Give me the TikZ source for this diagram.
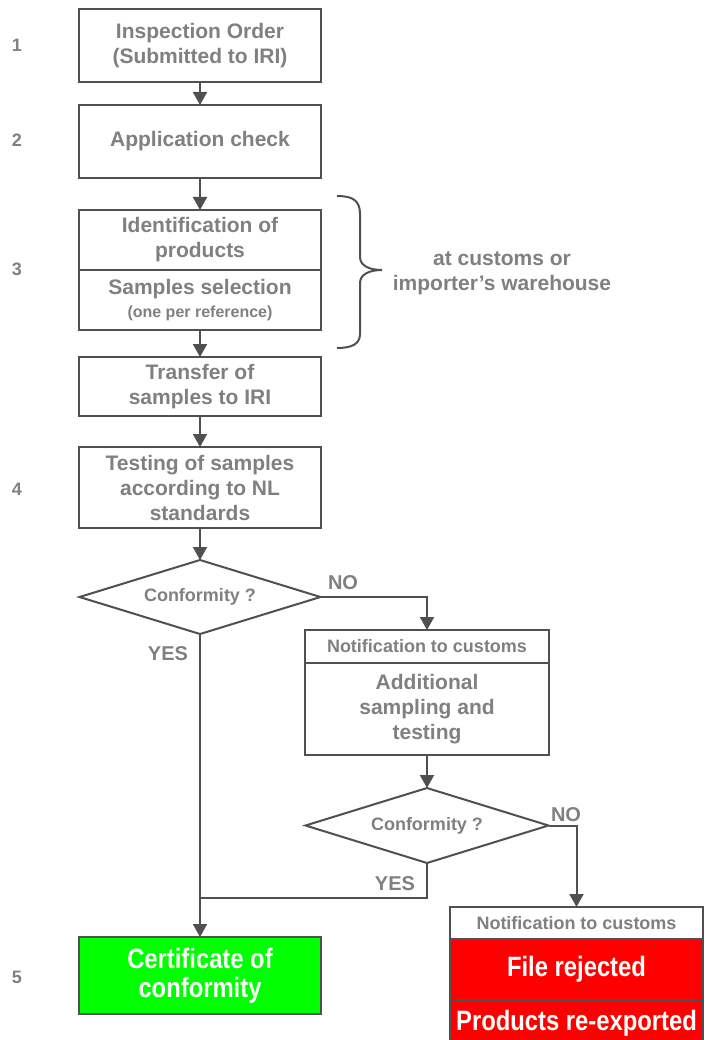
\documentclass[tikz,border=0pt]{standalone}
\usepackage{fontspec}
\setmainfont{Liberation Sans}
\newfontfamily\narrowfont{Liberation Sans}[FakeStretch=0.85]
\usetikzlibrary{arrows.meta}
\definecolor{txtgray}{HTML}{808080}
\definecolor{linegray}{HTML}{505050}
\definecolor{okgreen}{HTML}{00FF00}
\definecolor{badred}{HTML}{FF0000}
\begin{document}
\begin{tikzpicture}[x=1pt,y=-1pt,
  every node/.style={inner sep=0pt, outer sep=0pt},
  stepbox/.style={draw=linegray, line width=2pt, rectangle, minimum width=242pt, align=center,
     text=txtgray, font=\fontsize{21}{25}\selectfont\bfseries},
  smallbox/.style={draw=linegray, line width=2pt, rectangle, align=center,
     text=txtgray, font=\fontsize{18}{21}\selectfont\bfseries},
  redbox/.style={draw=linegray, line width=2pt, fill=badred, rectangle, align=center,
     text=white, font=\fontsize{28}{31}\selectfont\narrowfont\bfseries},
  decision/.style={rectangle, minimum width=241pt, minimum height=74pt,
     text=txtgray, font=\fontsize{18}{21}\selectfont\bfseries},
  lbl/.style={text=txtgray, font=\fontsize{20}{24}\selectfont\bfseries},
  num/.style={text=txtgray, font=\fontsize{18}{21}\selectfont\bfseries},
  conn/.style={draw=linegray, line width=2pt},
  arr/.style={conn, -{Triangle[width=14pt,length=13pt]}}
]
\clip (0,0) rectangle (704,1040);
\fill[white] (0,0) rectangle (704,1040);

% step numbers
\node[num] (n1) at (17,45) {1};
\node[num] (n2) at (17,140) {2};
\node[num] (n3) at (17,269) {3};
\node[num] (n4) at (17,489) {4};
\node[num] (n5) at (17,977) {5};

% main boxes
\node[stepbox, minimum height=73pt] (b1) at (200,45.5) {Inspection Order\\(Submitted to IRI)};
\node[stepbox, minimum height=73pt] (b2) at (200,141.5) {Application check};
\node[stepbox, minimum height=60pt] (b3a) at (200,240) {Identification of\\products};
\node[stepbox, minimum height=60pt] (b3b) at (200,300) {Samples selection\\[-2pt]{\fontsize{16}{19}\selectfont (one per reference)}};
\node[stepbox, minimum height=59pt] (b4) at (200,386.5) {Transfer of\\samples to IRI};
\node[stepbox, minimum height=81pt] (b5) at (200,487.5) {Testing of samples\\according to NL\\standards};

% first decision
\node[decision] (d1) at (200,597) {Conformity ?};
\draw[conn, line join=miter] (d1.north) -- (d1.east) -- (d1.south) -- (d1.west) -- cycle;
\node[lbl] (no1) at (343,583) {NO};
\node[lbl] (yes1) at (168,654) {YES};

% notification + additional
\node[smallbox, minimum width=244pt, minimum height=33pt] (na) at (427,646.5) {Notification to customs};
\node[stepbox, minimum width=244pt, minimum height=92pt] (ad) at (427,709) {Additional\\sampling and\\testing};

% second decision
\node[decision, minimum width=243pt, minimum height=75pt] (d2) at (427,825.5) {Conformity ?};
\draw[conn, line join=miter] (d2.north) -- (d2.east) -- (d2.south) -- (d2.west) -- cycle;
\node[lbl] (no2) at (566,815) {NO};
\node[lbl] (yes2) at (395,884) {YES};

% certificate
\node[draw=linegray, line width=2pt, fill=okgreen, minimum width=242pt, minimum height=77pt, align=center,
  text=white, font=\fontsize{28}{29}\selectfont\narrowfont\bfseries] (cert) at (200,975.5) {Certificate of\\conformity};

% rejection boxes
\node[smallbox, minimum width=253pt, minimum height=32pt] (nb) at (576.5,923) {Notification to customs};
\node[redbox, minimum width=253pt, minimum height=61pt] (rj) at (576.5,969.5) {File rejected};
\node[redbox, minimum width=253pt, minimum height=46pt] (rx) at (576.5,1023) {Products re-exported};

% brace
\coordinate (bt) at (337,196);
\coordinate (bb) at (337,348);
\coordinate (bm) at (382,270);
\draw[conn] (bt) .. controls (352,196) and (360,200) .. (360,214) -- (360,257)
  .. controls (360,266) and (370,270) .. (bm)
  .. controls (370,270) and (360,274) .. (360,283) -- (360,334)
  .. controls (360,344) and (352,348) .. (bb);
\node[text=txtgray, font=\fontsize{21}{25}\selectfont\bfseries, align=center] (loc) at (502,273) {at customs or\\importer’s warehouse};

% connectors
\draw[arr] (b1.south) -- (b2.north);
\draw[arr] (b2.south) -- (b3a.north);
\draw[arr] (b3b.south) -- (b4.north);
\draw[arr] (b4.south) -- (b5.north);
\draw[arr] (b5.south) -- (d1.north);
\draw[arr] (d1.east) -| (na.north);
\draw[arr] (ad.south) -- (d2.north);
\draw[arr] (d2.east) -| (nb.north);
\draw[arr] (d1.south) -- (cert.north);
\coordinate (join) at (200,898);
\draw[conn] (d2.south) |- (join);
\end{tikzpicture}
\end{document}
